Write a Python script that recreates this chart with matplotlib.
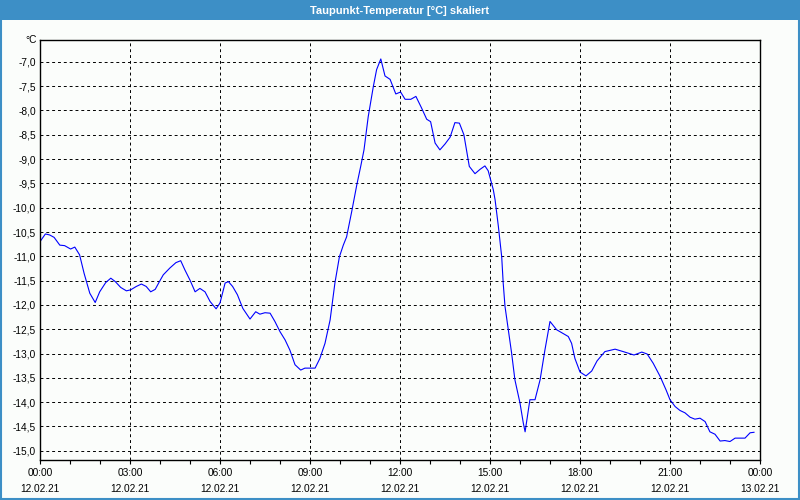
import matplotlib
matplotlib.use("Agg")
import matplotlib.pyplot as plt
from matplotlib.patches import Rectangle
from matplotlib.ticker import MultipleLocator, FuncFormatter

# time in hours since 12.02.21 00:00, dew point in degC
hours = [0.02, 0.18, 0.32, 0.47, 0.66, 0.82, 1.02, 1.16, 1.32, 1.47, 1.66, 1.84,
         1.99, 2.19, 2.36, 2.51, 2.69, 2.88, 3.02, 3.21, 3.38, 3.54, 3.69, 3.84,
         3.99, 4.11, 4.33, 4.53, 4.69, 4.83, 5.00, 5.17, 5.33, 5.50, 5.67, 5.87,
         6.00, 6.17, 6.28, 6.42, 6.58, 6.76, 7.00, 7.19, 7.33, 7.50, 7.67, 7.83,
         8.00, 8.17, 8.33, 8.50, 8.69, 8.83, 9.17, 9.33, 9.50, 9.67, 9.83, 9.98,
         10.11, 10.22, 10.39, 10.56, 10.69, 10.80, 10.94, 11.11, 11.22, 11.36,
         11.50, 11.67, 11.86, 12.02, 12.17, 12.36, 12.53, 12.72, 12.89, 13.02,
         13.17, 13.33, 13.50, 13.67, 13.83, 13.98, 14.13, 14.31, 14.50, 14.67,
         14.83, 14.94, 15.11, 15.17, 15.28, 15.39, 15.44, 15.50, 15.61, 15.72,
         15.83, 16.00, 16.11, 16.17, 16.33, 16.50, 16.67, 16.83, 17.00, 17.22,
         17.47, 17.61, 17.72, 17.83, 18.00, 18.20, 18.39, 18.57, 18.83, 19.17,
         19.44, 19.80, 20.06, 20.24, 20.44, 20.67, 20.87, 21.00, 21.17, 21.33,
         21.50, 21.67, 21.83, 22.00, 22.17, 22.33, 22.50, 22.67, 22.83, 23.00,
         23.17, 23.50, 23.67, 23.80]
dewpoint = [-10.68, -10.54, -10.56, -10.61, -10.77, -10.78, -10.85, -10.81, -10.97,
            -11.35, -11.76, -11.95, -11.73, -11.54, -11.45, -11.52, -11.64, -11.71,
            -11.69, -11.62, -11.57, -11.62, -11.73, -11.68, -11.51, -11.38, -11.24,
            -11.13, -11.09, -11.28, -11.49, -11.73, -11.66, -11.73, -11.93, -12.08,
            -11.96, -11.55, -11.52, -11.62, -11.79, -12.07, -12.29, -12.14, -12.19,
            -12.16, -12.17, -12.34, -12.55, -12.72, -12.93, -13.23, -13.34, -13.30,
            -13.30, -13.10, -12.79, -12.31, -11.55, -11.01, -10.77, -10.60, -10.08,
            -9.53, -9.15, -8.81, -8.13, -7.51, -7.16, -6.94, -7.29, -7.36, -7.66,
            -7.62, -7.77, -7.77, -7.71, -7.95, -8.18, -8.23, -8.67, -8.81, -8.69,
            -8.55, -8.25, -8.26, -8.50, -9.15, -9.30, -9.21, -9.14, -9.24, -9.63,
            -9.84, -10.39, -11.01, -11.55, -12.03, -12.51, -12.99, -13.54, -14.02,
            -14.43, -14.61, -13.95, -13.95, -13.54, -12.93, -12.34, -12.51, -12.60,
            -12.65, -12.79, -13.10, -13.38, -13.46, -13.36, -13.15, -12.96, -12.91,
            -12.96, -13.03, -12.97, -13.01, -13.20, -13.47, -13.75, -13.95, -14.09,
            -14.17, -14.22, -14.31, -14.35, -14.33, -14.40, -14.61, -14.66, -14.80,
            -14.79, -14.81, -14.74, -14.74, -14.63, -14.62]

x_ticks = [0, 3, 6, 9, 12, 15, 18, 21, 24]
x_labels = ["00:00\n12.02.21", "03:00\n12.02.21", "06:00\n12.02.21",
            "09:00\n12.02.21", "12:00\n12.02.21", "15:00\n12.02.21",
            "18:00\n12.02.21", "21:00\n12.02.21", "00:00\n13.02.21"]
title = "Taupunkt-Temperatur [°C] skaliert"

plt.rcParams["font.family"] = ["Liberation Sans", "DejaVu Sans"]
bg = "#fbfdfb"
bar_blue = "#3d8fc6"

fig = plt.figure(figsize=(8, 5), dpi=100, facecolor=bg)

# title bar and frame
fig.patches.append(Rectangle((0, 0.96), 1, 0.04, transform=fig.transFigure,
                             facecolor=bar_blue, edgecolor="none", zorder=0))
fig.patches.append(Rectangle((0.001, 0.002), 0.998, 0.996, transform=fig.transFigure,
                             facecolor="none", edgecolor=bar_blue, lw=1.5, zorder=5))
fig.text(0.5, 0.979, title, color="white", fontsize=8, fontweight="bold",
         ha="center", va="center")

ax = fig.add_axes([0.05, 0.08, 0.90, 0.84])
ax.set_facecolor(bg)
ax.plot(hours, dewpoint, color="#0000ff", lw=0.8)

ax.set_xlim(0, 24)
ax.set_ylim(-15.19, -6.55)
ax.set_xticks(x_ticks)
ax.set_xticklabels(x_labels, fontsize=7.3, linespacing=1.75)
ax.xaxis.set_minor_locator(MultipleLocator(1))
ax.yaxis.set_major_locator(MultipleLocator(0.5))
ax.yaxis.set_major_formatter(FuncFormatter(lambda v, p: f"{v:.1f}".replace(".", ",")))
ax.tick_params(axis="y", length=0, labelsize=7.3, pad=3)
ax.tick_params(axis="x", which="both", length=3, width=0.8, direction="out", pad=3)

ax.grid(True, which="major", color="black", linestyle=(0, (3, 3)), lw=0.7)
for s in ax.spines.values():
    s.set_color("black")
    s.set_linewidth(1.0)

ax.text(-0.005, 1.0, "°C", transform=ax.transAxes, ha="right", va="center", fontsize=7.3)

fig.savefig("out.png", dpi=100, facecolor=bg)
